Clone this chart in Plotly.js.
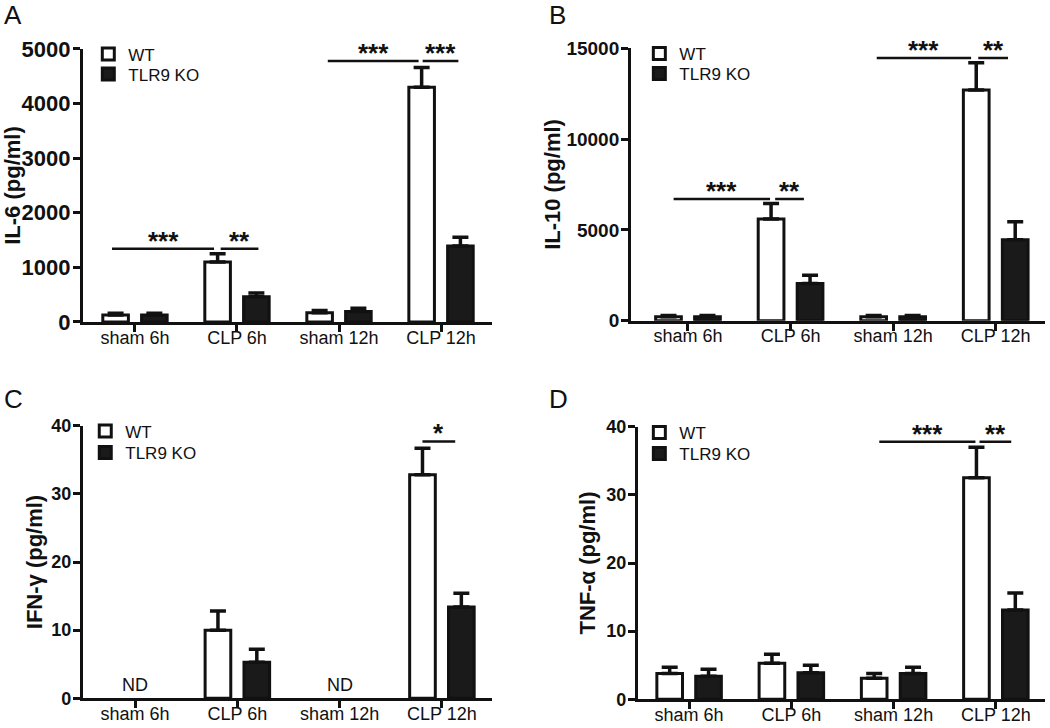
<!DOCTYPE html>
<html>
<head>
<meta charset="utf-8">
<script src="https://cdn.plot.ly/plotly-3.0.1.min.js"></script>
<style>html,body{margin:0;padding:0;background:#fff;}#chart{width:1050px;height:728px;}</style>
</head>
<body>
<div id="chart"></div>
<script>
// ---- data ----
const categories = ['sham 6h', 'CLP 6h', 'sham 12h', 'CLP 12h'];
const seriesNames = ['WT', 'TLR9 KO'];

const il6WT = [130, 1100, 170, 4300];
const il6WTErr = [30, 150, 40, 360];
const il6KO = [130, 460, 190, 1390];
const il6KOErr = [30, 70, 60, 160];

const il10WT = [220, 5600, 220, 12700];
const il10WTErr = [70, 850, 70, 1500];
const il10KO = [220, 2050, 220, 4450];
const il10KOErr = [70, 450, 60, 1000];

const ifngWT = [null, 10.0, null, 32.8];
const ifngWTErr = [0, 2.8, 0, 3.9];
const ifngKO = [null, 5.3, null, 13.4];
const ifngKOErr = [0, 1.9, 0, 2.0];

const tnfWT = [3.8, 5.3, 3.1, 32.5];
const tnfWTErr = [0.9, 1.3, 0.7, 4.5];
const tnfKO = [3.4, 3.9, 3.8, 13.1];
const tnfKOErr = [1.0, 1.1, 0.9, 2.5];

const panelLetters = ['A', 'B', 'C', 'D'];
const yTitles = ['IL-6 (pg/ml)', 'IL-10 (pg/ml)', 'IFN-γ (pg/ml)', 'TNF-α (pg/ml)'];
const yMax = [5000, 15000, 40, 40];
const yStep = [1000, 5000, 10, 10];

// significance brackets: [start, end (category index units), height, label]
const sigA = [[-0.225, 0.775, 1340, '***'], [0.84, 1.21, 1340, '**'], [1.89, 2.78, 4780, '***'], [2.82, 3.17, 4780, '***']];
const sigB = [[-0.14, 0.80, 6700, '***'], [0.85, 1.13, 6700, '**'], [1.84, 2.76, 14466, '***'], [2.83, 3.12, 14466, '**']];
const sigC = [[2.81, 3.13, 37.7, '*']];
const sigD = [[1.86, 2.80, 37.8, '***'], [2.84, 3.15, 37.8, '**']];

// ---- layout settings ----
const FONT = 'Liberation Sans, Arial, sans-serif';
const panels = [
  {wt: il6WT, wtErr: il6WTErr, ko: il6KO, koErr: il6KOErr, sig: sigA,
   xd: [0.079, 0.4686], yd: [0.5577, 0.9327], xr: [-0.51, 3.5], tickSize: 22, standoff: 10,
   legX: 0.0841, legY: [54.5, 74.5]},
  {wt: il10WT, wtErr: il10WTErr, ko: il10KO, koErr: il10KOErr, sig: sigB,
   xd: [0.601, 0.9952], yd: [0.5595, 0.9337], xr: [-0.555, 3.48], tickSize: 19, standoff: 0,
   legX: 0.6089, legY: [54, 74]},
  {wt: ifngWT, wtErr: ifngWTErr, ko: ifngKO, koErr: ifngKOErr, sig: sigC,
   xd: [0.079, 0.4686], yd: [0.0408, 0.4152], xr: [-0.51, 3.49], tickSize: 18, standoff: 3,
   legX: 0.0812, legY: [431.5, 453]},
  {wt: tnfWT, wtErr: tnfWTErr, ko: tnfKO, koErr: tnfKOErr, sig: sigD,
   xd: [0.6076, 0.9952], yd: [0.0394, 0.4138], xr: [-0.5, 3.48], tickSize: 18, standoff: 5,
   legX: 0.6089, legY: [433, 454]}
];

const traces = [];
const layout = {
  width: 1050, height: 728,
  margin: {l: 0, r: 0, t: 0, b: 0},
  paper_bgcolor: '#fff', plot_bgcolor: 'rgba(0,0,0,0)',
  showlegend: true,
  barmode: 'group', bargap: 0.24, bargroupgap: 0.34,
  font: {family: FONT, color: '#111'},
  annotations: [], shapes: []
};

function zeros(n) { return new Array(n).fill(0); }
function legName(k) { return k === 1 ? 'legend' : 'legend' + k; }

panels.forEach((p, i) => {
  const n = i + 1;
  const xa = n === 1 ? 'x' : 'x' + n;
  const ya = n === 1 ? 'y' : 'y' + n;
  const lgWT = legName(2 * i + 1);
  const lgKO = legName(2 * i + 2);
  const errStyle = {type: 'data', symmetric: false, thickness: 3.5, width: 8, color: '#111'};
  traces.push({
    type: 'bar', name: seriesNames[0], x: categories, y: p.wt,
    xaxis: xa, yaxis: ya, legend: lgWT, showlegend: true,
    marker: {color: '#ffffff', line: {color: '#111', width: 3}},
    error_y: Object.assign({array: p.wtErr, arrayminus: zeros(p.wt.length)}, errStyle),
    hoverinfo: 'x+y'
  });
  traces.push({
    type: 'bar', name: seriesNames[1], x: categories, y: p.ko,
    xaxis: xa, yaxis: ya, legend: lgKO, showlegend: true,
    marker: {color: '#1a1a1a', line: {color: '#111', width: 3}},
    error_y: Object.assign({array: p.koErr, arrayminus: zeros(p.ko.length)}, errStyle),
    hoverinfo: 'x+y'
  });

  layout['xaxis' + (n === 1 ? '' : n)] = {
    domain: p.xd, anchor: ya, type: 'category', range: p.xr,
    showline: true, linewidth: 3, linecolor: '#111',
    ticks: 'outside', ticklen: 7, tickwidth: 3, tickcolor: '#111',
    ticklabelstandoff: -10,
    tickfont: {family: FONT, size: 18, color: '#111'},
    showgrid: false, zeroline: false, fixedrange: true
  };
  layout['yaxis' + (n === 1 ? '' : n)] = {
    domain: p.yd, anchor: xa, range: [0, yMax[i]], dtick: yStep[i], tick0: 0,
    tickformat: 'd',
    showline: true, linewidth: 3, linecolor: '#111',
    ticks: 'outside', ticklen: 7, tickwidth: 3, tickcolor: '#111',
    ticklabelstandoff: -2,
    tickfont: {family: FONT, size: p.tickSize, color: '#111', weight: 'bold'},
    title: {text: yTitles[i], font: {family: FONT, size: 22, color: '#111', weight: 'bold'}, standoff: p.standoff},
    showgrid: false, zeroline: false, fixedrange: true
  };
  [lgWT, lgKO].forEach((lg, s) => {
    layout[lg] = {
      x: p.legX, y: 1 - p.legY[s] / 728, xanchor: 'left', yanchor: 'middle',
      xref: 'paper', yref: 'paper', visible: true,
      bgcolor: 'rgba(0,0,0,0)', borderwidth: 0,
      font: {family: FONT, size: 17, color: '#111'},
      itemwidth: 30, tracegroupgap: 0
    };
  });

  // panel letter
  layout.annotations.push({
    xref: 'paper', yref: 'paper',
    x: i % 2 === 0 ? 0.002 : 0.521,
    y: i < 2 ? 1.0 : 0.467,
    xanchor: 'left', yanchor: 'top', showarrow: false, yshift: i < 2 ? 2 : 6,
    text: panelLetters[i], font: {family: FONT, size: 26, color: '#111'}
  });

  // ND markers where no value was detected
  categories.forEach((c, k) => {
    if (p.wt[k] === null && p.ko[k] === null) {
      layout.annotations.push({
        xref: xa, yref: ya, x: k, y: 0, yanchor: 'bottom', yshift: 1,
        showarrow: false, text: 'ND', font: {family: FONT, size: 18, color: '#111'}
      });
    }
  });

  // significance bars
  p.sig.forEach(s => {
    layout.shapes.push({
      type: 'line', xref: xa, yref: ya, x0: s[0], x1: s[1], y0: s[2], y1: s[2],
      line: {color: '#111', width: 2.5}
    });
    layout.annotations.push({
      xref: xa, yref: ya, x: (s[0] + s[1]) / 2, y: s[2], yanchor: 'middle', yshift: 8,
      showarrow: false, text: s[3], font: {family: FONT, size: 26, color: '#111', weight: 'bold'}
    });
  });
});

Plotly.newPlot('chart', traces, layout, {displayModeBar: false, staticPlot: true});
</script>
</body>
</html>
